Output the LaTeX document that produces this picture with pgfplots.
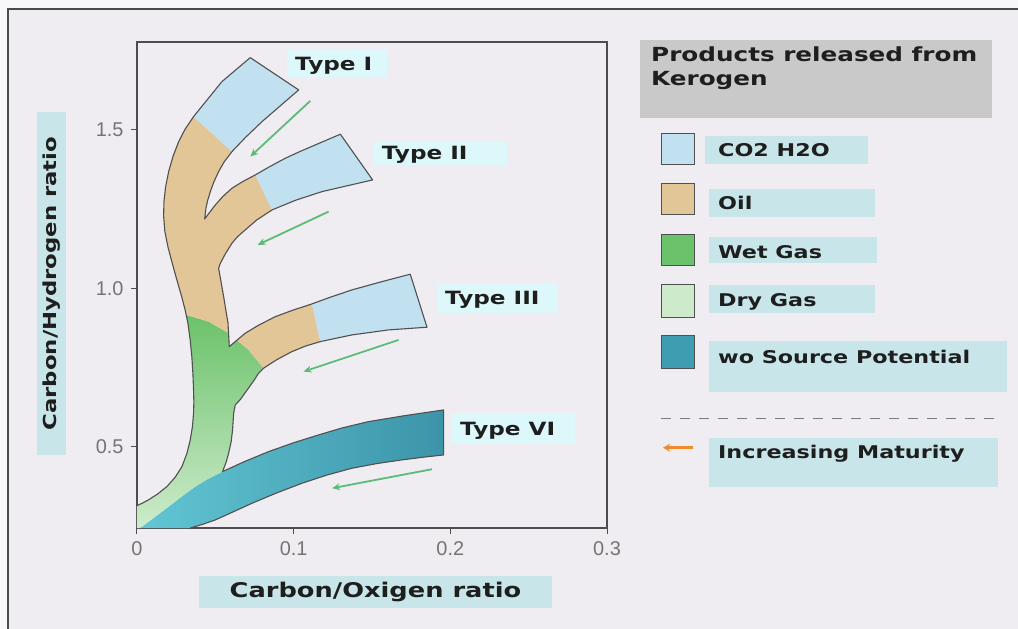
\documentclass[border=0pt]{standalone}
\usepackage{fontspec}
\usepackage{pgfplots}
\pgfplotsset{compat=1.18}
\usetikzlibrary{arrows.meta}
\setmainfont{Liberation Sans}
\newfontfamily\labfont[FakeStretch=1.27]{DejaVu Sans}
\newfontfamily\tickfont{Liberation Sans}
\definecolor{pagebg}{HTML}{F8F7F9}
\definecolor{framebg}{HTML}{EFEDF1}
\definecolor{framecol}{HTML}{4A4A4A}
\definecolor{axiscol}{HTML}{4D4D4D}
\definecolor{tickgray}{HTML}{747474}
\definecolor{txtdark}{HTML}{1E1E1E}
\definecolor{lblbg}{HTML}{C8E6E9}
\definecolor{typebg}{HTML}{DDF8FA}
\definecolor{hdrgray}{HTML}{C9C9C9}
\definecolor{cBlue}{HTML}{C2E1F0}
\definecolor{cOil}{HTML}{E2C697}
\definecolor{cGreen}{HTML}{6CC26B}
\definecolor{cDry}{HTML}{CDEBCB}
\definecolor{cTealL}{HTML}{62C6D3}
\definecolor{cTealR}{HTML}{3C94A9}
\definecolor{cTeal}{HTML}{3F9DB1}
\definecolor{outl}{HTML}{505050}
\definecolor{arrowgreen}{HTML}{5DBB78}
\definecolor{arroworange}{HTML}{F28A2A}
\definecolor{dashgray}{HTML}{7A7A7A}
\newcommand{\lab}[1]{\labfont\bfseries\fontsize{#1}{#1}\selectfont}
\begin{document}
\begin{tikzpicture}
\useasboundingbox (-137bp,-101bp) rectangle (881bp,528bp);
\fill[pagebg] (-137bp,-101bp) rectangle (881bp,528bp);
\fill[framebg] (-129bp,-101bp) rectangle (881bp,519bp);
\draw[framecol, line width=1.5bp] (-129bp,-101bp) -- (-129bp,519bp) -- (881bp,519bp);
\begin{axis}[
  at={(0,0)}, anchor=south west,
  scale only axis, width=470bp, height=486bp,
  xmin=0, xmax=0.3, ymin=0.243, ymax=1.7776,
  axis background/.style={fill=framebg},
  axis line style={draw=axiscol, line width=1.2bp},
  xtick={0,0.1,0.2,0.3}, xticklabels={0,0.1,0.2,0.3},
  ytick={0.5,1.0,1.5}, yticklabels={0.5,1.0,1.5},
  tick align=outside, xtick pos=bottom, ytick pos=left,
  major tick length=6bp,
  tick style={draw=axiscol, line width=1bp},
  tick label style={font=\tickfont\fontsize{20}{23}\selectfont, text=tickgray},
  xticklabel style={yshift=-4bp},
  yticklabel style={xshift=-4bp},
  xlabel={Carbon/Oxigen ratio}, ylabel={Carbon/Hydrogen ratio},
  xlabel style={at={(axis description cs:0.5074,-0.1317)}, anchor=center, fill=lblbg,
     minimum width=353bp, minimum height=32bp, inner sep=0pt, text=txtdark, font=\lab{20.3}},
  ylabel style={at={(axis description cs:-0.1819,0.503)}, anchor=center, fill=lblbg,
     minimum width=343bp, minimum height=29bp, inner sep=0pt, text=txtdark, font=\lab{18}},
]
% Type VI band (no source potential)
\addplot[draw=none, left color=cTealL, right color=cTealR] coordinates {
 (0.002,0.243) (0.0112,0.277) (0.0202,0.3105) (0.0288,0.3434) (0.0372,0.3737)
 (0.0451,0.3974) (0.0546,0.4211) (0.0684,0.4523) (0.084,0.4842) (0.0998,0.5119)
 (0.1159,0.5369) (0.1309,0.5589) (0.1478,0.579) (0.1708,0.5977) (0.1957,0.6158)
 (0.1957,0.4737) (0.1827,0.4665) (0.1691,0.458) (0.1535,0.4468) (0.1372,0.4317)
 (0.1213,0.4103) (0.1053,0.3843) (0.0888,0.353) (0.0734,0.3211) (0.0607,0.2924)
 (0.05,0.2685) (0.0415,0.254) (0.034,0.243)} -- cycle;
% gas region (wet -> dry)
\addplot[draw=none, top color=cGreen, middle color=cGreen, bottom color=cDry] coordinates {
 (0.0314,0.9158) (0.0457,0.8948) (0.0585,0.858) (0.0589,0.8158) (0.0638,0.836)
 (0.0712,0.8053) (0.0808,0.7475) (0.0773,0.7297) (0.0749,0.7106) (0.0659,0.6483)
 (0.0627,0.6316) (0.0617,0.6053) (0.061,0.5526) (0.0601,0.5158) (0.0585,0.4791)
 (0.0568,0.4496) (0.0546,0.4211) (0.0451,0.3974) (0.0372,0.3737) (0.0288,0.3434)
 (0.0202,0.3105) (0.0112,0.277) (0.002,0.243) (0,0.243) (0,0.313) (0.001,0.316)
 (0.0035,0.3216) (0.0074,0.332) (0.0131,0.3501) (0.0191,0.374) (0.0243,0.4029)
 (0.0287,0.437) (0.0318,0.4777) (0.034,0.521) (0.0354,0.5636) (0.0361,0.605)
 (0.0363,0.6407) (0.0361,0.679) (0.0357,0.7295) (0.035,0.784) (0.0339,0.8383)
 (0.0325,0.890)} -- cycle;
% oil in stem
\addplot[draw=none, fill=cOil] coordinates {
 (0.0361,1.542) (0.0606,1.4315) (0.0555,1.398) (0.0521,1.3684) (0.0491,1.3361)
 (0.0468,1.3052) (0.0451,1.2771) (0.044,1.2526) (0.0432,1.219) (0.05,1.2632)
 (0.0548,1.2897) (0.0606,1.3159) (0.0675,1.3369) (0.0755,1.3579) (0.0862,1.2474)
 (0.0762,1.2148) (0.0691,1.1842) (0.0642,1.1631) (0.0606,1.142) (0.0564,1.1088)
 (0.0532,1.079) (0.0521,1.0633) (0.0553,0.9737) (0.0581,0.8896) (0.0585,0.858)
 (0.0457,0.8948) (0.0314,0.9158) (0.0307,0.9321) (0.0285,0.974) (0.0255,1.0255)
 (0.0225,1.079) (0.0198,1.1296) (0.0178,1.179) (0.0170,1.2269) (0.0172,1.274)
 (0.0183,1.3212) (0.0202,1.3684) (0.0230,1.4167) (0.0266,1.463) (0.0306,1.5015)} -- cycle;
% oil in type III
\addplot[draw=none, fill=cOil] coordinates {
 (0.0638,0.836) (0.0691,0.858) (0.0779,0.8843) (0.0883,0.9104) (0.0996,0.931)
 (0.1117,0.9506) (0.117,0.8316) (0.1078,0.8178) (0.0989,0.8) (0.0891,0.7741)
 (0.0808,0.7475) (0.0712,0.8053)} -- cycle;
% CO2 H2O parts
\addplot[draw=none, fill=cBlue] coordinates {
 (0.0723,1.7283) (0.1032,1.6263) (0.0798,1.5262) (0.0693,1.4765) (0.0606,1.4315)
 (0.0361,1.542) (0.0542,1.6525)} -- cycle;
\addplot[draw=none, fill=cBlue] coordinates {
 (0.0755,1.3579) (0.0848,1.3843) (0.0947,1.4106) (0.1045,1.4328) (0.1138,1.4526)
 (0.1298,1.4864) (0.1504,1.3421) (0.1181,1.3052) (0.1012,1.2779) (0.0862,1.2474)} -- cycle;
\addplot[draw=none, fill=cBlue] coordinates {
 (0.1117,0.9506) (0.1236,0.9721) (0.1372,0.9948) (0.1551,1.0193) (0.1744,1.0444)
 (0.1851,0.877) (0.1606,0.8685) (0.1372,0.8527) (0.117,0.8316)} -- cycle;
% outlines
\addplot[outl, line width=1.1bp, line join=round] coordinates {
 (0.0723,1.7283) (0.0542,1.6525) (0.0361,1.542) (0.0306,1.5015) (0.0266,1.463)
 (0.0230,1.4167) (0.0202,1.3684) (0.0183,1.3212) (0.0172,1.274) (0.0170,1.2269)
 (0.0178,1.179) (0.0198,1.1296) (0.0225,1.079) (0.0255,1.0255) (0.0285,0.974)
 (0.0307,0.9321) (0.0325,0.890) (0.0339,0.8383) (0.035,0.784) (0.0357,0.7295)
 (0.0361,0.679) (0.0363,0.6407) (0.0361,0.605) (0.0354,0.5636) (0.034,0.521)
 (0.0318,0.4777) (0.0287,0.437) (0.0243,0.4029) (0.0191,0.374) (0.0131,0.3501)
 (0.0074,0.332) (0.0035,0.3216) (0.001,0.316) (0,0.313)};
\addplot[outl, line width=1.1bp, line join=round] coordinates {
 (0.0723,1.7283) (0.1032,1.6263) (0.0798,1.5262) (0.0693,1.4765) (0.0606,1.4315)
 (0.0555,1.398) (0.0521,1.3684) (0.0491,1.3361) (0.0468,1.3052) (0.0451,1.2771)
 (0.044,1.2526) (0.0432,1.219) (0.05,1.2632) (0.0548,1.2897) (0.0606,1.3159)
 (0.0675,1.3369) (0.0755,1.3579) (0.0848,1.3843) (0.0947,1.4106) (0.1045,1.4328)
 (0.1138,1.4526) (0.1298,1.4864) (0.1504,1.3421) (0.1181,1.3052) (0.1012,1.2779)
 (0.0862,1.2474) (0.0762,1.2148) (0.0691,1.1842) (0.0642,1.1631) (0.0606,1.142)
 (0.0564,1.1088) (0.0532,1.079) (0.0521,1.0633) (0.0553,0.9737) (0.0581,0.8896)
 (0.0589,0.8158) (0.0638,0.836) (0.0691,0.858) (0.0779,0.8843) (0.0883,0.9104)
 (0.0996,0.931) (0.1117,0.9506) (0.1236,0.9721) (0.1372,0.9948) (0.1551,1.0193)
 (0.1744,1.0444) (0.1851,0.877) (0.1606,0.8685) (0.1372,0.8527) (0.117,0.8316)
 (0.1078,0.8178) (0.0989,0.8) (0.0891,0.7741) (0.0808,0.7475) (0.0773,0.7297)
 (0.0749,0.7106) (0.0659,0.6483) (0.0627,0.6316) (0.0617,0.6053) (0.061,0.5526)
 (0.0601,0.5158) (0.0585,0.4791) (0.0568,0.4496) (0.0546,0.4211)};
\addplot[outl, line width=1.1bp, line join=round] coordinates {
 (0.0546,0.4211) (0.0684,0.4523) (0.084,0.4842) (0.0998,0.5119) (0.1159,0.5369)
 (0.1309,0.5589) (0.1478,0.579) (0.1708,0.5977) (0.1957,0.6158) (0.1957,0.4737)
 (0.1827,0.4665) (0.1691,0.458) (0.1535,0.4468) (0.1372,0.4317) (0.1213,0.4103)
 (0.1053,0.3843) (0.0888,0.353) (0.0734,0.3211) (0.0607,0.2924) (0.05,0.2685)
 (0.0415,0.254) (0.034,0.243)};
% maturity arrows
\addplot[arrowgreen, line width=1.8bp, -{Stealth[length=8bp,width=7bp]}] coordinates {(0.1106,1.5916) (0.0723,1.4157)};
\addplot[arrowgreen, line width=1.8bp, -{Stealth[length=8bp,width=7bp]}] coordinates {(0.1223,1.242) (0.077,1.137)};
\addplot[arrowgreen, line width=1.8bp, -{Stealth[length=8bp,width=7bp]}] coordinates {(0.167,0.8369) (0.1063,0.7368)};
\addplot[arrowgreen, line width=1.8bp, -{Stealth[length=8bp,width=7bp]}] coordinates {(0.1883,0.4286) (0.1245,0.3686)};
\end{axis}
% type labels
\fill[typebg] (149.7bp,451.3bp) rectangle (249.7bp,478bp);
\node[anchor=base west, inner sep=0pt, text=txtdark, font=\lab{18.3}] at (158bp,457bp) {Type I};
\fill[typebg] (236.3bp,363bp) rectangle (369.7bp,386.3bp);
\node[anchor=base west, inner sep=0pt, text=txtdark, font=\lab{18.3}] at (244.7bp,368bp) {Type II};
\fill[typebg] (299.7bp,214.7bp) rectangle (419.7bp,244.7bp);
\node[anchor=base west, inner sep=0pt, text=txtdark, font=\lab{18.3}] at (308bp,223bp) {Type III};
\fill[typebg] (314.7bp,84.7bp) rectangle (438bp,114.7bp);
\node[anchor=base west, inner sep=0pt, text=txtdark, font=\lab{18.3}] at (323bp,92.5bp) {Type VI};
% legend panel
\fill[hdrgray] (503bp,410bp) rectangle (855bp,488bp);
\node[anchor=base west, inner sep=0pt, text=txtdark, font=\lab{19.5}] at (514bp,466bp) {Products released from};
\node[anchor=base west, inner sep=0pt, text=txtdark, font=\lab{19.5}] at (514bp,442.7bp) {Kerogen};
\fill[lblbg] (568bp,364bp) rectangle (731bp,392bp);
\fill[lblbg] (572bp,311bp) rectangle (738bp,339bp);
\fill[lblbg] (572bp,265bp) rectangle (740bp,291bp);
\fill[lblbg] (572bp,215bp) rectangle (738bp,243bp);
\fill[lblbg] (572bp,136bp) rectangle (870bp,187bp);
\fill[lblbg] (572bp,41bp) rectangle (861bp,90bp);
\filldraw[fill=cBlue, draw=outl, line width=1bp] (524bp,363.7bp) rectangle (557bp,394.7bp);
\filldraw[fill=cOil, draw=outl, line width=1bp] (524bp,313bp) rectangle (557bp,344.7bp);
\filldraw[fill=cGreen, draw=outl, line width=1bp] (524bp,262bp) rectangle (557bp,293.7bp);
\filldraw[fill=cDry, draw=outl, line width=1bp] (524bp,210.7bp) rectangle (557bp,243bp);
\filldraw[fill=cTeal, draw=outl, line width=1bp] (524bp,159.7bp) rectangle (557bp,192.3bp);
\node[anchor=base west, inner sep=0pt, text=txtdark, font=\lab{17.6}] at (581bp,371.3bp) {CO2 H2O};
\node[anchor=base west, inner sep=0pt, text=txtdark, font=\lab{17.6}] at (581bp,318.7bp) {Oil};
\node[anchor=base west, inner sep=0pt, text=txtdark, font=\lab{17.6}] at (581bp,269.7bp) {Wet Gas};
\node[anchor=base west, inner sep=0pt, text=txtdark, font=\lab{17.6}] at (581bp,221.3bp) {Dry Gas};
\node[anchor=base west, inner sep=0pt, text=txtdark, font=\lab{17.6}] at (581bp,164.7bp) {wo Source Potential};
\draw[dashgray, line width=1.2bp, dash pattern=on 10bp off 9bp] (524bp,109.7bp) -- (865bp,109.7bp);
\draw[arroworange, line width=2.5bp, -{Stealth[length=7bp,width=8bp]}] (556bp,80.3bp) -- (526bp,80.3bp);
\node[anchor=base west, inner sep=0pt, text=txtdark, font=\lab{17.6}] at (581bp,69.7bp) {Increasing Maturity};
\end{tikzpicture}
\end{document}
